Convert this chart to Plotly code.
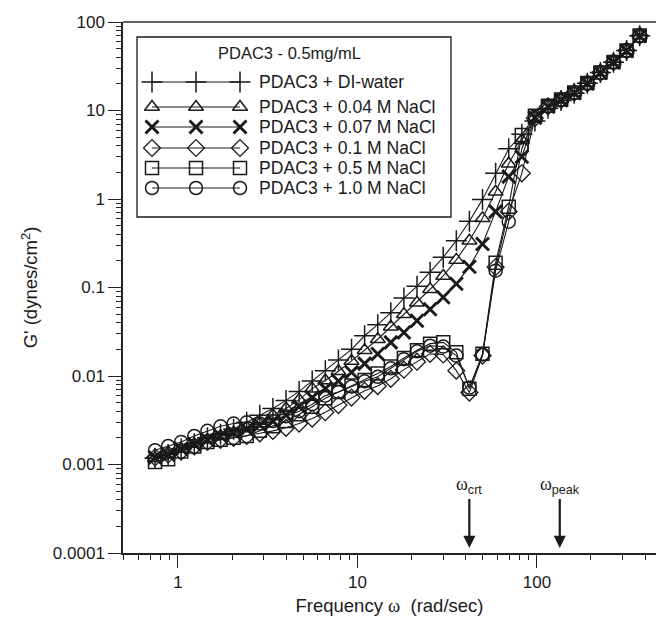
import plotly.graph_objects as go
import math

# ---------------- data ----------------
freq = [0.745, 0.881, 1.042, 1.233, 1.459, 1.726, 2.041, 2.415, 2.857, 3.380,
        3.998, 4.730, 5.596, 6.620, 7.831, 9.264, 10.96, 12.97, 15.34, 18.14,
        21.46, 25.39, 30.04, 35.54, 42.04, 49.73, 58.83, 69.60, 82.34, 97.40,
        115.2, 136.3, 161.3, 190.8, 225.7, 267.0, 315.8, 373.6]

g_di = [0.00118, 0.0013, 0.0015, 0.00172, 0.0020, 0.0022, 0.0025, 0.0030, 0.0036, 0.0043,
        0.0053, 0.0067, 0.0088, 0.0115, 0.0152, 0.0200, 0.0285, 0.0380, 0.052, 0.076,
        0.103, 0.149, 0.219, 0.338, 0.56, 0.99, 1.95, 3.7, 5.4, 7.6,
        10.6, 13.0, 15.7, 20.3, 26.8, 35.2, 47.5, 70.0]
g_004 = [0.00118, 0.0013, 0.0015, 0.0017, 0.0019, 0.0021, 0.0023, 0.0026, 0.0029, 0.0036,
         0.0043, 0.0054, 0.0072, 0.0089, 0.0113, 0.0148, 0.0195, 0.026, 0.036, 0.0498,
         0.0673, 0.0955, 0.135, 0.205, 0.338, 0.605, 1.21, 2.5, 4.6, 8.4,
         11.2, 13.3, 16.0, 20.4, 26.9, 35.3, 47.6, 70.5]
g_007 = [0.0012, 0.0013, 0.0015, 0.0017, 0.0019, 0.0021, 0.0023, 0.0025, 0.0028, 0.0031,
         0.0036, 0.0045, 0.0057, 0.0072, 0.0088, 0.011, 0.0138, 0.0177, 0.024, 0.031,
         0.0422, 0.0567, 0.0775, 0.11, 0.172, 0.31, 0.72, 1.79, 3.0, 8.3,
         11.0, 13.1, 15.8, 20.2, 26.7, 35.0, 47.3, 69.5]
g_01 = [0.0012, 0.0013, 0.0014, 0.0016, 0.0018, 0.0019, 0.0020, 0.0021, 0.00225, 0.0024,
        0.0026, 0.0029, 0.0033, 0.0039, 0.0047, 0.0057, 0.0068, 0.0077, 0.0093, 0.0118,
        0.0145, 0.0178, 0.0175, 0.0115, 0.0065, 0.017, 0.17, 0.72, 1.95, 8.2,
        11.1, 13.2, 15.9, 20.3, 26.8, 35.2, 47.5, 70.0]
g_05 = [0.00107, 0.00115, 0.0014, 0.0016, 0.0018, 0.0019, 0.0020, 0.0021, 0.0024, 0.0027,
        0.0031, 0.0037, 0.0045, 0.0056, 0.0066, 0.0078, 0.0090, 0.0107, 0.0128, 0.0160,
        0.0195, 0.0232, 0.0240, 0.0185, 0.0072, 0.0178, 0.19, 0.82, 5.3, 8.7,
        11.3, 13.3, 16.0, 20.4, 26.9, 35.3, 47.6, 70.5]
g_10 = [0.00145, 0.00162, 0.0018, 0.0021, 0.0024, 0.0027, 0.0029, 0.0030, 0.0029, 0.0031,
        0.0035, 0.0040, 0.0048, 0.0060, 0.0066, 0.0076, 0.0087, 0.0098, 0.0122, 0.0155,
        0.019, 0.022, 0.0215, 0.017, 0.0074, 0.0175, 0.155, 0.555, 3.7, 8.6,
        11.2, 13.2, 15.9, 20.3, 26.8, 35.2, 47.5, 70.0]

series_names = ["PDAC3 + DI-water", "PDAC3 + 0.04 M NaCl", "PDAC3 + 0.07 M NaCl",
                "PDAC3 + 0.1 M NaCl", "PDAC3 + 0.5 M NaCl", "PDAC3 + 1.0 M NaCl"]
series_vals = [g_di, g_004, g_007, g_01, g_05, g_10]
legend_title = "PDAC3 - 0.5mg/mL"

y_tickvals = [1e-4, 1e-3, 1e-2, 1e-1, 1, 10, 100]
y_ticktext = ["0.0001", "0.001", "0.01", "0.1", "1", "10", "100"]
x_tickvals = [1, 10, 100]
x_ticktext = ["1", "10", "100"]

w_crt = 42.0
w_peak = 134.0

# ---------------- styles ----------------
INK = "#1a1a1a"
FONT = "Liberation Sans, Arial, sans-serif"
SERIF = "Liberation Serif, Times New Roman, serif"
styles = [
    dict(symbol="cross-thin-open", size=15, line=dict(width=1.5, color=INK)),
    dict(symbol="triangle-up-open", size=13, line=dict(width=1.5, color=INK)),
    dict(symbol="x-thin-open", size=13, line=dict(width=2.9, color=INK)),
    dict(symbol="diamond-open", size=13, line=dict(width=1.3, color=INK)),
    dict(symbol="square-open", size=13, line=dict(width=1.5, color=INK)),
    dict(symbol="circle-open", size=13, line=dict(width=1.5, color=INK)),
]

W, H = 656, 621
L, R, T, B = 123, 0, 22, 68
PW, PH = W - L - R, H - T - B


def px(xp):
    return (xp - L) / PW


def py(yp):
    return (H - B - yp) / PH


fig = go.Figure()
for name, vals, st in zip(series_names, series_vals, styles):
    fig.add_trace(go.Scatter(
        x=freq, y=vals, mode="lines+markers", name=name, showlegend=False,
        line=dict(color=INK, width=1.1),
        marker=dict(symbol=st["symbol"], size=st["size"], color=INK, line=st["line"]),
        cliponaxis=False,
    ))

# custom legend (three markers per row, as in the original)
leg_marker_x = [px(152), px(196), px(240)]
leg_rows = [82, 107, 127, 148, 168, 188]
for name, st, ry in zip(series_names, styles, leg_rows):
    fig.add_trace(go.Scatter(
        x=leg_marker_x, y=[py(ry)] * 3, xaxis="x2", yaxis="y2",
        mode="lines+markers", showlegend=False, hoverinfo="skip",
        line=dict(color=INK, width=1.1),
        marker=dict(symbol=st["symbol"], size=st["size"], color=INK, line=st["line"]),
        cliponaxis=False,
    ))

annotations = []
for name, ry in zip(series_names, leg_rows):
    annotations.append(dict(xref="paper", yref="paper", x=px(257), y=py(ry), text=name,
                            showarrow=False, xanchor="left", yanchor="middle",
                            font=dict(family=FONT, size=17.6, color=INK)))
annotations.append(dict(xref="paper", yref="paper", x=px(289), y=py(53), text=legend_title,
                        showarrow=False, xanchor="center", yanchor="middle",
                        font=dict(family=FONT, size=16.5, color=INK)))

arrow_tip_y = math.log10(1.14e-4)
for wv, sub in [(w_crt, "crt"), (w_peak, "peak")]:
    lab = ("ω<sub><span style='font-family:Liberation Sans'>" + sub + "</span></sub>")
    annotations.append(dict(x=math.log10(wv), y=arrow_tip_y, xref="x", yref="y",
                            text=lab, showarrow=True, arrowhead=2, arrowsize=1.1,
                            arrowwidth=2.2, arrowcolor=INK, ax=0, ay=-62,
                            font=dict(family=SERIF, size=18, color=INK)))

shapes = [
    # legend frame
    dict(type="rect", xref="paper", yref="paper", x0=px(137), x1=px(451), y0=py(217), y1=py(37),
         line=dict(color=INK, width=1.3), fillcolor="rgba(0,0,0,0)"),
    # top frame line
    dict(type="line", xref="paper", yref="paper", x0=0, x1=1, y0=1, y1=1,
         line=dict(color="#333", width=1.5)),
]

axis_common = dict(type="log", showgrid=False, zeroline=False, showline=True,
                   linecolor="#222", linewidth=1.5, ticks="outside", ticklen=13,
                   tickwidth=1.3, tickcolor="#222",
                   minor=dict(ticks="outside", ticklen=5, tickwidth=1.1, tickcolor="#222",
                              dtick="D1", showgrid=False),
                   tickfont=dict(family=FONT, size=17, color=INK))

xtitle = "Frequency <span style='font-family:Liberation Serif'>ω</span>  (rad/sec)"

fig.update_layout(
    width=W, height=H, margin=dict(l=L, r=R, t=T, b=B),
    paper_bgcolor="white", plot_bgcolor="white",
    xaxis=dict(axis_common, range=[math.log10(0.4939), math.log10(460.5)],
               tickvals=x_tickvals, ticktext=x_ticktext,
               title=dict(text=xtitle, font=dict(family=FONT, size=18.5, color=INK),
                          standoff=8)),
    yaxis=dict(axis_common, range=[-4, 2], tickvals=y_tickvals, ticktext=y_ticktext,
               title=dict(text="G' (dynes/cm<sup>2</sup>)", font=dict(family=FONT, size=18.5, color=INK),
                          standoff=10)),
    xaxis2=dict(range=[0, 1], overlaying="x", visible=False, anchor="y2"),
    yaxis2=dict(range=[0, 1], overlaying="y", visible=False, anchor="x2"),
    annotations=annotations,
    shapes=shapes,
    showlegend=False,
)

fig.write_html("out.html")
